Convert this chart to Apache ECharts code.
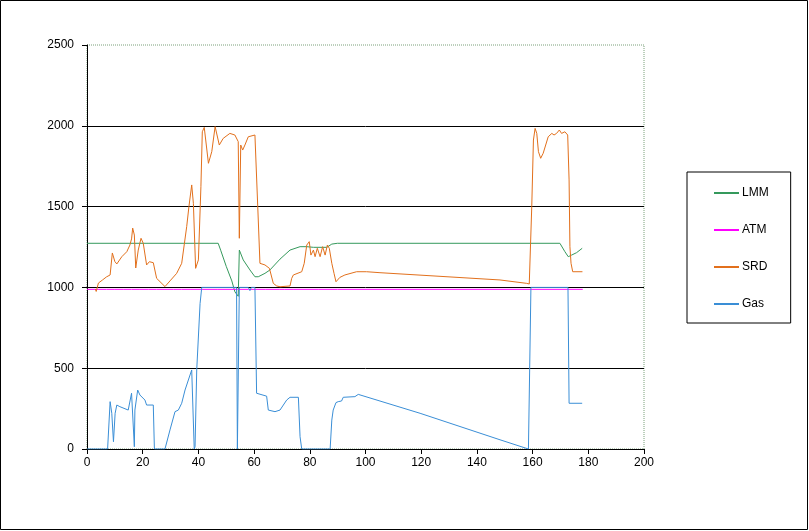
<!DOCTYPE html>
<html><head><meta charset="utf-8">
<script src="https://cdn.jsdelivr.net/npm/echarts@6/dist/echarts.min.js"></script>
<style>html,body{margin:0;padding:0;background:#fff}#c{width:809px;height:531px}</style>
</head><body><div id="c"></div>
<script>
const seriesNames = ['LMM', 'ATM', 'SRD', 'Gas'];
const xTicks = [0, 20, 40, 60, 80, 100, 120, 140, 160, 180, 200];
const yTicks = [0, 500, 1000, 1500, 2000, 2500];

const lmmX = [0, 47.1, 48.0, 50.0, 52.0, 53.1, 54.3, 54.7, 56.1, 58.5, 60.3, 61.5, 63.9, 65.7, 69.3, 72.9, 76.5, 78.9, 81.3, 86.1, 87.9, 89.9, 169.8, 171.6, 172.8, 174.0, 175.8, 177.8];
const lmmY = [1273, 1273, 1230, 1130, 1040, 973, 945, 1231, 1170, 1108, 1066, 1066, 1087, 1108, 1175, 1231, 1252, 1252, 1248, 1248, 1268, 1273, 1273, 1221, 1190, 1200, 1215, 1242];

const atmX = [0, 4, 4.3, 4.6, 7, 7.3, 7.6, 10, 10.3, 10.6, 13, 13.3, 13.6, 16, 16.3, 16.6, 19, 19.3, 19.6, 22, 22.3, 22.6, 25, 25.3, 25.6, 28, 28.3, 28.6, 31, 31.3, 31.6, 34, 34.3, 34.6, 37, 37.3, 37.6, 42, 42.3, 42.6, 47, 47.3, 47.6, 54, 54.3, 54.6, 58, 58.3, 58.6, 64, 64.3, 64.6, 69, 69.3, 69.6, 71, 71.3, 71.6, 74, 74.3, 74.6, 83, 83.3, 83.6, 90, 90.3, 90.6, 93, 93.3, 93.6, 178];
const atmY = [988, 988, 976, 988, 988, 976, 988, 988, 976, 988, 988, 976, 988, 988, 976, 988, 988, 976, 988, 988, 976, 988, 988, 976, 988, 988, 976, 988, 988, 976, 988, 988, 976, 988, 988, 976, 988, 988, 976, 988, 988, 976, 988, 988, 976, 988, 988, 976, 988, 988, 976, 988, 988, 976, 988, 988, 976, 988, 988, 976, 988, 988, 976, 988, 988, 976, 988, 988, 976, 988, 988];

const srdX = [3.0, 3.3, 4.1, 5.5, 7.0, 8.3, 9.1, 10.0, 10.7, 12.5, 14.3, 15.4, 16.0, 16.4, 17.0, 17.5, 18.4, 19.4, 20.2, 21.4, 22.4, 23.8, 25.0, 28.0, 29.8, 32.2, 34.0, 35.8, 36.6, 37.6, 38.2, 39.0, 40.0, 40.9, 41.4, 42.1, 43.6, 44.8, 46.0, 47.5, 48.9, 51.3, 53.1, 54.3, 54.7, 55.2, 55.9, 56.7, 57.9, 60.3, 60.9, 61.5, 62.1, 63.9, 65.5, 66.9, 68.1, 69.3, 72.9, 73.5, 74.1, 77.1, 78.0, 78.9, 79.8, 80.4, 81.3, 81.9, 82.7, 83.7, 84.6, 85.5, 86.3, 87.0, 87.9, 88.7, 89.4, 90.8, 92.6, 96.8, 100.4, 105.2, 148.3, 157.9, 158.8, 159.7, 160.3, 160.9, 161.5, 162.1, 162.9, 163.8, 165.6, 166.9, 167.7, 168.6, 169.6, 170.4, 171.6, 172.6, 173.1, 173.4, 173.8, 174.4, 177.9];
const srdY = [990, 975, 1027, 1045, 1065, 1077, 1213, 1160, 1145, 1190, 1221, 1262, 1300, 1367, 1324, 1120, 1231, 1304, 1273, 1139, 1159, 1153, 1056, 1005, 1040, 1087, 1149, 1376, 1500, 1634, 1520, 1118, 1170, 1623, 1963, 1990, 1768, 1840, 1995, 1881, 1922, 1953, 1943, 1902, 1304, 1881, 1850, 1881, 1932, 1943, 1932, 1417, 1149, 1139, 1118, 1025, 1009, 1004, 1009, 1056, 1077, 1097, 1149, 1262, 1283, 1200, 1231, 1190, 1242, 1190, 1252, 1200, 1262, 1242, 1149, 1087, 1035, 1062, 1077, 1097, 1097, 1091, 1046, 1025, 1021, 1500, 1912, 1984, 1953, 1840, 1799, 1830, 1932, 1953, 1943, 1953, 1974, 1953, 1963, 1943, 1665, 1252, 1149, 1097, 1097];

const gasX = [0, 7.4, 8.3, 8.9, 9.5, 10.1, 10.7, 11.8, 14.8, 15.3, 16.0, 16.6, 17.0, 17.2, 18.2, 19.0, 20.8, 21.4, 23.8, 24.2, 28.0, 29.8, 31.6, 32.8, 34.0, 35.2, 36.4, 37.6, 38.2, 38.5, 38.8, 39.4, 40.6, 41.2, 53.7, 54.0, 54.4, 54.7, 57.9, 58.5, 59.0, 60.3, 60.9, 61.5, 64.5, 65.1, 67.5, 69.3, 71.7, 72.9, 75.9, 76.5, 77.1, 87.3, 87.9, 88.4, 89.4, 90.2, 91.4, 92.0, 96.2, 97.4, 119.6, 148.3, 158.5, 159.4, 172.7, 173.1, 177.8];
const gasY = [0, 0, 293, 221, 45, 221, 272, 262, 241, 241, 345, 355, 14, 241, 365, 334, 303, 272, 272, 0, 0, 118, 231, 241, 283, 365, 427, 489, 490, 0, 14, 489, 900, 1000, 1000, 0, 0, 1000, 1000, 980, 1000, 1000, 345, 334, 327, 241, 231, 241, 303, 320, 320, 76, 0, 0, 179, 241, 287, 293, 297, 320, 324, 338, 221, 57, 0, 1000, 1000, 283, 283];

const colors = {LMM: '#35995c', ATM: '#ff00ff', SRD: '#e2701c', Gas: '#3a8ed6'};
const zip = (xs, ys) => xs.map((x, i) => [x, ys[i]]);

const chart = echarts.init(document.getElementById('c'), null, {renderer: 'canvas'});
const font = {fontFamily: 'Liberation Sans, Arial, sans-serif', fontSize: 12, color: '#000'};
function mk(name, xs, ys, z) {
  return {name, type: 'line', data: zip(xs, ys), symbol: 'none', z,
    lineStyle: {width: 1, color: colors[name]}, itemStyle: {color: colors[name]}, animation: false};
}
chart.setOption({
  animation: false,
  backgroundColor: '#fff',
  grid: {left: 87, top: 45, width: 557, height: 404, show: true, backgroundColor: '#fff',
    borderColor: '#7aa07a', borderWidth: 1, borderType: 'dotted'},
  xAxis: {type: 'value', min: xTicks[0], max: xTicks[xTicks.length - 1], interval: 20,
    axisLine: {lineStyle: {color: '#000', width: 1}},
    axisTick: {show: true, length: 5, lineStyle: {color: '#000'}},
    axisLabel: Object.assign({margin: 8, formatter: v => String(v)}, font),
    splitLine: {show: false}},
  yAxis: {type: 'value', min: yTicks[0], max: yTicks[yTicks.length - 1], interval: 500,
    axisLine: {show: true, lineStyle: {color: '#000', width: 1}},
    axisTick: {show: true, length: 5, lineStyle: {color: '#000'}},
    axisLabel: Object.assign({margin: 13, formatter: v => String(v)}, font),
    splitLine: {show: true, showMinLine: false, showMaxLine: false, lineStyle: {color: '#000', width: 1}}},
  legend: {orient: 'vertical', left: 687, top: 172, data: seriesNames,
    padding: [15, 22, 13, 26], itemGap: 25, itemWidth: 25, itemHeight: 14,
    borderColor: '#000', borderWidth: 1, backgroundColor: '#fff',
    itemStyle: {opacity: 0},
    textStyle: Object.assign({padding: [0, 0, 0, -2]}, font), selectedMode: false},
  graphic: [{type: 'rect', shape: {x: 0.5, y: 0.5, width: 807, height: 529},
    style: {fill: 'none', stroke: '#000', lineWidth: 1}, silent: true, z: 100}],
  series: [
    mk('LMM', lmmX, lmmY, 2),
    mk('ATM', atmX, atmY, 3),
    mk('SRD', srdX, srdY, 5),
    mk('Gas', gasX, gasY, 4)
  ]
});
</script></body></html>
